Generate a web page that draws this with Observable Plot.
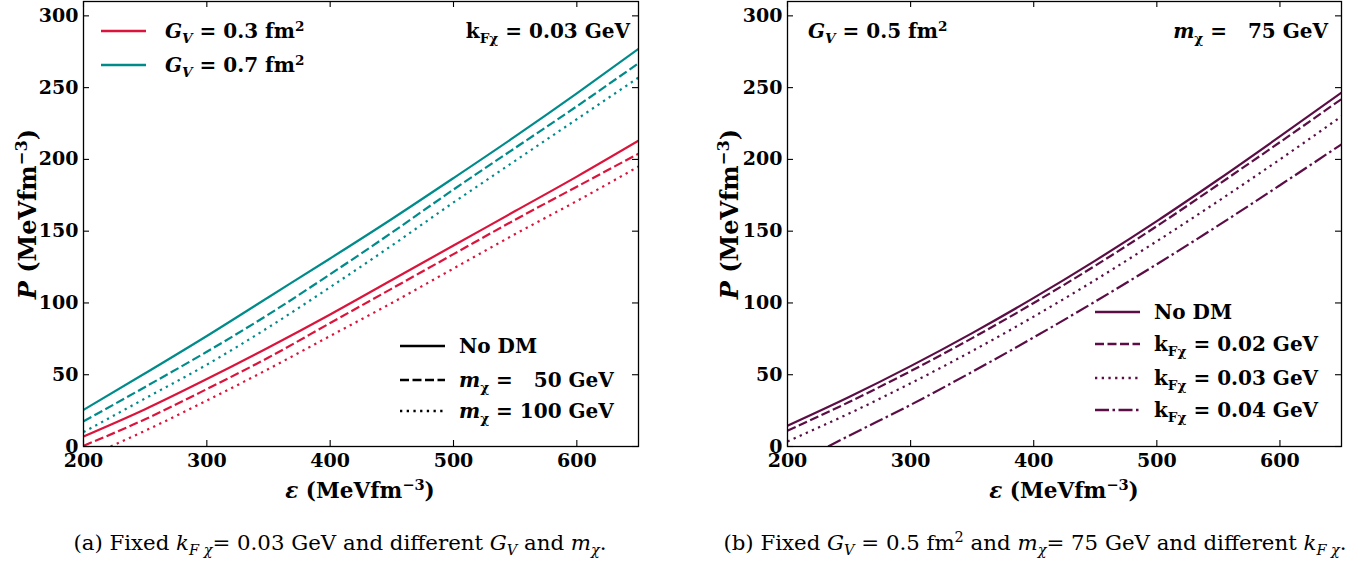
<!DOCTYPE html>
<html>
<head>
<meta charset="utf-8">
<script src="https://cdn.jsdelivr.net/npm/d3@7"></script>
<script src="https://cdn.jsdelivr.net/npm/@observablehq/plot@0.6"></script>
<style>
  html, body { margin: 0; padding: 0; background: #fff; }
  #wrap { position: relative; width: 1367px; height: 562px; overflow: hidden; font-family: "DejaVu Serif", serif; color: #000; }
  .panel { position: absolute; top: 0; }
  .lg { position: absolute; display: flex; align-items: center; transform: translateY(-50%); white-space: pre; font-size: 20px; font-weight: bold; line-height: 1; }
  .lg svg { margin-right: 14px; flex: none; }
  sub { font-size: 0.68em; vertical-align: -0.35em; line-height: 0; }
  sup { font-size: 0.68em; vertical-align: 0.55em; line-height: 0; }
  .rot { position: absolute; transform: translate(-50%, -50%) rotate(-90deg); white-space: pre; font-size: 24px; font-weight: bold; line-height: 1; }
  .xl { position: absolute; transform: translate(-50%, -50%); white-space: pre; font-size: 21.5px; font-weight: bold; line-height: 1; }
  .cap { position: absolute; transform: translate(-50%, -50%); white-space: pre; font-size: 21.3px; line-height: 1; }
</style>
</head>
<body>
<div id="wrap"></div>
<script>
// ---------- data ----------
const epsGrid = [200, 250, 300, 350, 400, 450, 500, 550, 600, 650];
const xTicks = [200, 300, 400, 500, 600];
const yTicks = [0, 50, 100, 150, 200, 250, 300];

// panel (a): fixed kFχ = 0.03 GeV
const gv03NoDM = [7, 26, 47, 69, 92, 116, 140, 164, 188, 213];
const gv03m50  = [0.5, 19, 40, 62, 86, 110, 134, 158, 181, 204];
const gv03m100Eps = [222, 250, 300, 350, 400, 450, 500, 550, 600, 650];
const gv03m100 = [0, 11, 32, 54, 77, 100, 124, 148, 171, 195];
const gv07NoDM = [25.5, 51, 77, 104, 131, 158.5, 187, 216, 246, 277];
const gv07m50  = [17.5, 41.5, 66, 92, 120, 149, 179, 208, 237, 267];
const gv07m100 = [10, 33.5, 57, 83, 111, 140, 170, 199, 228, 257];

// panel (b): fixed GV = 0.5 fm², mχ = 75 GeV
const bNoDM  = [14.5, 34.5, 56, 79, 103.5, 129.5, 157, 186, 216, 246.5];
const bKf002 = [11, 31, 52.5, 75.5, 100, 126, 153.5, 182.5, 212, 242];
const bKf003 = [3.5, 23, 44, 66.5, 90.5, 116, 143, 171, 200, 230];
const bKf004Eps = [233, 250, 300, 350, 400, 450, 500, 550, 600, 650];
const bKf004 = [0, 7.5, 29, 52, 76, 101, 127, 154, 182, 210.5];

const RED = "#DC143C", TEAL = "#008B8B", PURPLE = "#5B0E45";
const DASH = { solid: null, dashed: "9,3.5", dotted: "2.3,4.4", dashdot: "14,3.5,2.5,3.5" };

function series(eps, vals, color, dash) {
  return { data: eps.map((e, i) => ({ e, p: vals[i] })), color, dash };
}

const panelA = [
  series(epsGrid, gv07NoDM, TEAL, DASH.solid),
  series(epsGrid, gv07m50, TEAL, DASH.dashed),
  series(epsGrid, gv07m100, TEAL, DASH.dotted),
  series(epsGrid, gv03NoDM, RED, DASH.solid),
  series(epsGrid, gv03m50, RED, DASH.dashed),
  series(gv03m100Eps, gv03m100, RED, DASH.dotted)
];
const panelB = [
  series(epsGrid, bNoDM, PURPLE, DASH.solid),
  series(epsGrid, bKf002, PURPLE, DASH.dashed),
  series(epsGrid, bKf003, PURPLE, DASH.dotted),
  series(bKf004Eps, bKf004, PURPLE, DASH.dashdot)
];

function makePanel(list, opts) {
  const { width, height, ml, mr, mt, mb } = opts;
  const pw = width - ml - mr, ph = height - mt - mb;
  const marks = [];
  for (const s of list) {
    marks.push(Plot.line(s.data, { x: "e", y: "p", stroke: s.color, strokeWidth: 2.2, strokeDasharray: s.dash, strokeLinecap: "butt", curve: "monotone-x", clip: true }));
  }
  marks.push(
    Plot.tickY(yTicks, { y: d => d, insetRight: pw - 6, stroke: "#000", strokeWidth: 1.1 }),
    Plot.tickY(yTicks, { y: d => d, insetLeft: pw - 6, stroke: "#000", strokeWidth: 1.1 }),
    Plot.tickX(xTicks, { x: d => d, insetTop: ph - 6, stroke: "#000", strokeWidth: 1.1 }),
    Plot.tickX(xTicks, { x: d => d, insetBottom: ph - 6, stroke: "#000", strokeWidth: 1.1 }),
    Plot.axisY({ ticks: yTicks, tickSize: 0, tickPadding: 5, label: null }),
    Plot.axisX({ ticks: xTicks, tickSize: 0, tickPadding: 7, label: null }),
    Plot.frame({ stroke: "#000", strokeWidth: 1.3 })
  );
  return Plot.plot({
    width, height,
    marginLeft: ml, marginRight: mr, marginTop: mt, marginBottom: mb,
    x: { domain: [200, 650] },
    y: { domain: [0, 310] },
    style: { fontFamily: "DejaVu Serif", fontSize: "19px", fontWeight: "bold", background: "#fff", color: "#000", overflow: "visible" },
    marks
  });
}

const wrap = document.getElementById("wrap");
const a = makePanel(panelA, { width: 683, height: 510, ml: 83, mr: 45, mt: 1, mb: 64 });
a.classList.add("panel"); a.style.left = "0px";
wrap.appendChild(a);
const b = makePanel(panelB, { width: 667, height: 510, ml: 87, mr: 26, mt: 1, mb: 64 });
b.classList.add("panel"); b.style.left = "700px";
wrap.appendChild(b);

function sample(color, dash) {
  return `<svg width="45" height="8"><line x1="0" y1="4" x2="45" y2="4" stroke="${color}" stroke-width="2.4" ${dash ? `stroke-dasharray="${dash}"` : ""}/></svg>`;
}
function addHTML(html) { wrap.insertAdjacentHTML("beforeend", html); }

const GV = v => `<i>G</i><sub><i>V</i></sub> = ${v} fm<sup>2</sup>`;
const MX = v => `<i>m</i><sub>χ</sub> = ${v} GeV`;
const KF = v => `k<sub>Fχ</sub> = ${v} GeV`;

// panel (a) legends
addHTML(`<div class="lg" style="left:101px;top:31px">${sample(RED, null)}<span style="margin-left:5px">${GV("0.3")}</span></div>`);
addHTML(`<div class="lg" style="left:101px;top:65px">${sample(TEAL, null)}<span style="margin-left:5px">${GV("0.7")}</span></div>`);
addHTML(`<div class="lg" style="right:${1367-630}px;top:31px"><span>${KF("0.03")}</span></div>`);
addHTML(`<div class="lg" style="left:400px;top:346px">${sample("#000", null)}<span>No DM</span></div>`);
addHTML(`<div class="lg" style="left:400px;top:380px">${sample("#000", DASH.dashed)}<span>${MX("  50")}</span></div>`);
addHTML(`<div class="lg" style="left:400px;top:411px">${sample("#000", DASH.dotted)}<span>${MX("100")}</span></div>`);

// panel (b) legends
addHTML(`<div class="lg" style="left:808px;top:31px"><span>${GV("0.5")}</span></div>`);
addHTML(`<div class="lg" style="right:${1367-1328}px;top:31px"><span>${MX("  75")}</span></div>`);
addHTML(`<div class="lg" style="left:1095px;top:312px">${sample(PURPLE, null)}<span>No DM</span></div>`);
addHTML(`<div class="lg" style="left:1095px;top:344px">${sample(PURPLE, DASH.dashed)}<span>${KF("0.02")}</span></div>`);
addHTML(`<div class="lg" style="left:1095px;top:378px">${sample(PURPLE, DASH.dotted)}<span>${KF("0.03")}</span></div>`);
addHTML(`<div class="lg" style="left:1095px;top:410px">${sample(PURPLE, DASH.dashdot)}<span>${KF("0.04")}</span></div>`);

// axis labels
const unit = `(MeVfm<sup>−3</sup>)`;
addHTML(`<div class="rot" style="left:28px;top:214px"><i>P</i> ${unit}</div>`);
addHTML(`<div class="rot" style="left:730px;top:214px"><i>P</i> ${unit}</div>`);
addHTML(`<div class="xl" style="left:360px;top:491px"><i>ε</i> ${unit}</div>`);
addHTML(`<div class="xl" style="left:1064px;top:491px"><i>ε</i> ${unit}</div>`);

// captions
addHTML(`<div class="cap" style="left:340px;top:543px">(a) Fixed <i>k<sub>F χ</sub></i>= 0.03 GeV and different <i>G<sub>V</sub></i> and <i>m<sub>χ</sub></i>.</div>`);
addHTML(`<div class="cap" style="left:1035px;top:543px">(b) Fixed <i>G<sub>V</sub></i> = 0.5 fm<sup>2</sup> and <i>m<sub>χ</sub></i>= 75 GeV and different <i>k<sub>F χ</sub></i>.</div>`);
</script>
</body>
</html>
